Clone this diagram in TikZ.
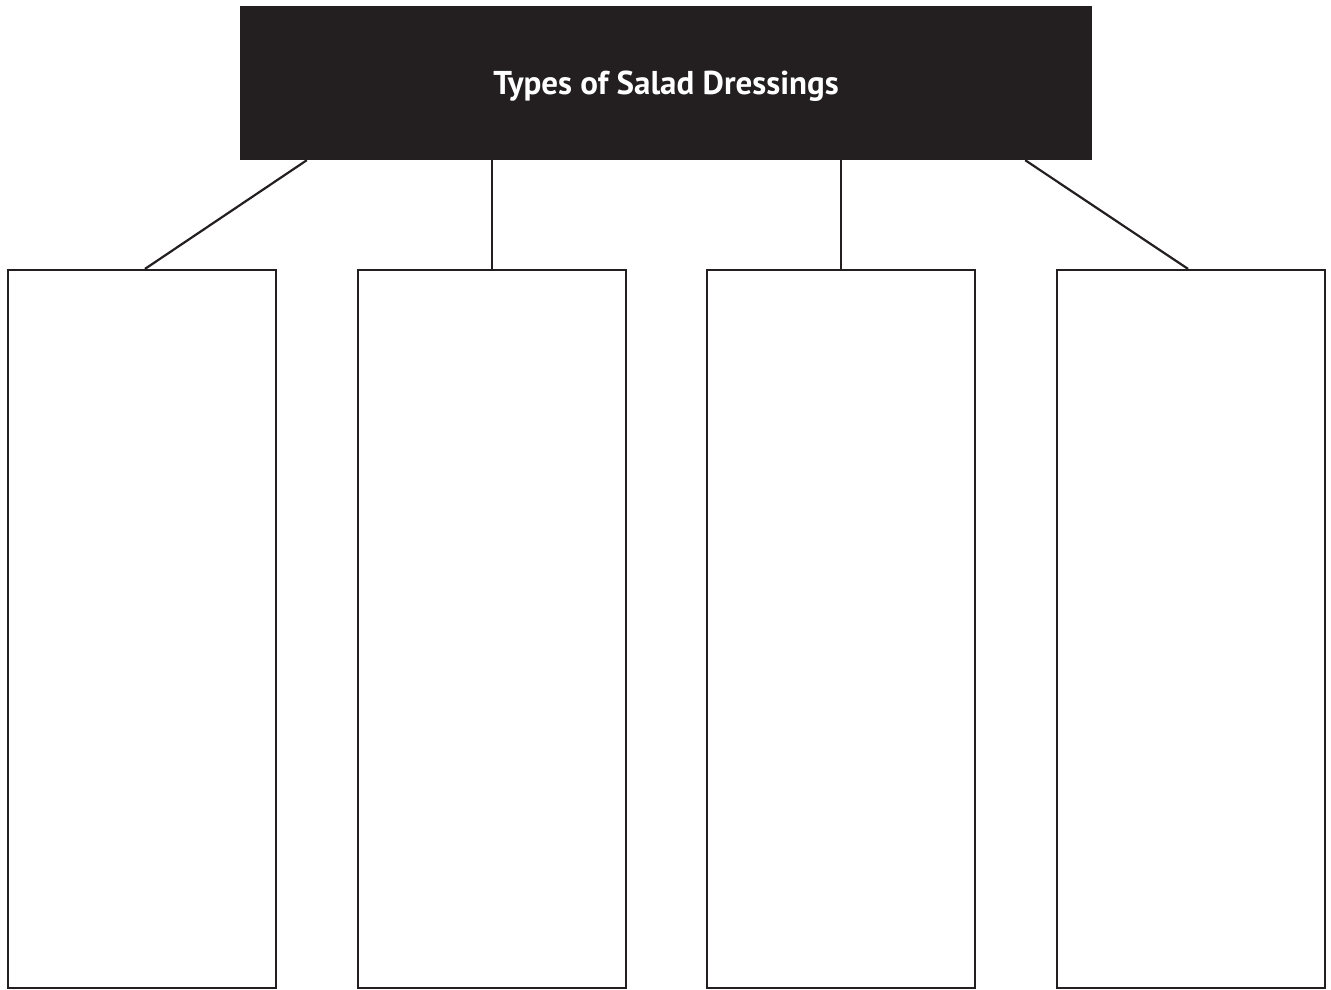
\documentclass[tikz,border=0pt]{standalone}
\usepackage{fontspec}
\setmainfont{PT Sans}
\usetikzlibrary{positioning,calc}
\definecolor{inkblack}{HTML}{231F20}
\tikzset{
  headbox/.style={fill=inkblack,text=white,minimum width=852pt,minimum height=154pt,inner sep=0pt,text depth=0pt,font=\fontsize{33}{38}\selectfont\bfseries},
  typebox/.style={draw=inkblack,line width=2.2pt,fill=white,minimum width=268pt,minimum height=718pt,inner sep=0pt},
  link/.style={draw=inkblack,line width=2.2pt}
}
\begin{document}
\begin{tikzpicture}[x=1pt,y=-1pt]
\useasboundingbox (0,0) rectangle (1331,990);
%header
\node[headbox] (head) at (666,83) {Types of Salad Dressings};
%boxes
\foreach \n/\x in {1/142,2/492,3/841,4/1191} {
  \node[typebox] (box\n) at (\x,629) {};
}
%links
\draw[link] ($(head.south west)+(67,0)$) -- ($(box1.north)+(3,0)$);
\draw[link] (box2.north |- head.south) -- (box2.north);
\draw[link] (box3.north |- head.south) -- (box3.north);
\draw[link] ($(head.south east)+(-67,0)$) -- ($(box4.north)+(-3,0)$);
\end{tikzpicture}
\end{document}
